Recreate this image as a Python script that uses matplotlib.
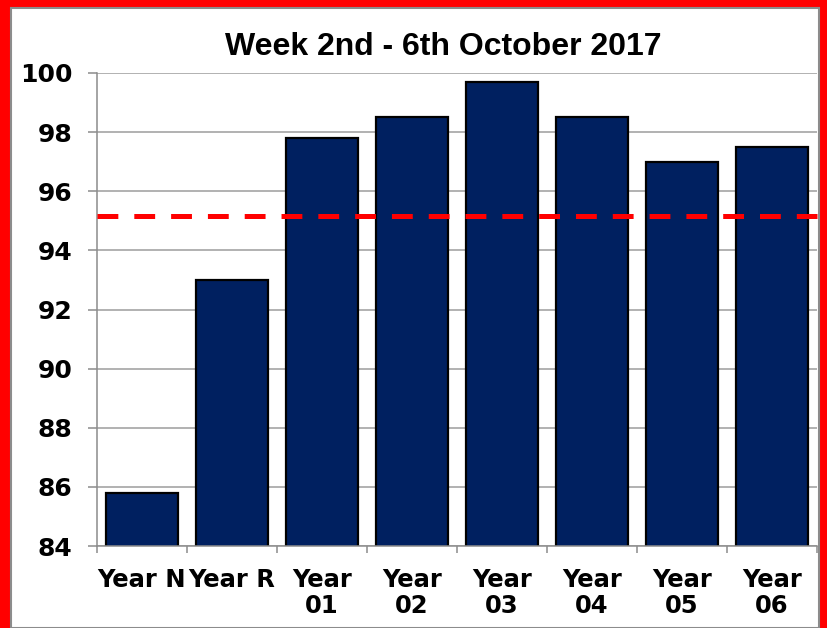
import matplotlib
matplotlib.use("Agg")
import matplotlib.pyplot as plt
from matplotlib.patches import Rectangle

categories = ["Year N", "Year R", "Year\n01", "Year\n02", "Year\n03", "Year\n04", "Year\n05", "Year\n06"]
values = [85.8, 93.0, 97.8, 98.5, 99.7, 98.5, 97.0, 97.5]
target = 95.15
title = "Week 2nd - 6th October 2017"
yticks = [84, 86, 88, 90, 92, 94, 96, 98, 100]

plt.rcParams['lines.scale_dashes'] = False

W, H = 827, 628
fig = plt.figure(figsize=(W / 100, H / 100), dpi=100)
fig.patch.set_facecolor("#FF0000")
fig.patches.append(Rectangle((11 / W, 0), (819 - 11) / W, (H - 8) / H,
                             transform=fig.transFigure, facecolor="white",
                             edgecolor="#8C8C8C", linewidth=1.5, zorder=-10))

ax = fig.add_axes([97 / W, (H - 546) / H, 720 / W, 473 / H])
ax.set_facecolor("none")
x = list(range(len(categories)))
ax.bar(x, values, width=0.8, color="#002060", edgecolor="black", linewidth=1.6, zorder=3)
ax.set_xlim(-0.5, len(categories) - 0.5)
ax.set_ylim(84, 100)
ax.set_yticks(yticks)
ax.set_yticklabels([str(v) for v in yticks], fontsize=18, fontweight="bold", family="DejaVu Sans")
ax.set_xticks(x)
ax.set_xticklabels(categories, fontsize=17.5, fontweight="bold", family="DejaVu Sans", linespacing=1.15)
ax.set_xticks([i - 0.5 for i in range(len(categories) + 1)], minor=True)
ax.tick_params(axis="x", which="major", length=0, pad=15.5)
ax.tick_params(axis="x", which="minor", length=5, width=1.1, color="#8C8C8C")
ax.tick_params(axis="y", which="major", length=6.5, width=1.1, color="#8C8C8C", pad=11)
ax.yaxis.grid(True, color="#9C9C9C", linewidth=1.1, zorder=0)
ax.set_axisbelow(True)
for s in ["top", "right"]:
    ax.spines[s].set_visible(False)
for s in ["left", "bottom"]:
    ax.spines[s].set_color("#8C8C8C")
    ax.spines[s].set_linewidth(1.1)
    ax.spines[s].set_zorder(4)

line = ax.axhline(target, color="#FF0000", linewidth=3.6, zorder=5, clip_on=False)
line.set_dashes((15, 11.5))
line.set_dash_capstyle("butt")

fig.text(443 / W, (H - 47) / H, title, ha="center", va="center",
         fontsize=23, fontweight="bold", family="Liberation Sans")

fig.savefig("out.png", dpi=100, facecolor=fig.get_facecolor())
